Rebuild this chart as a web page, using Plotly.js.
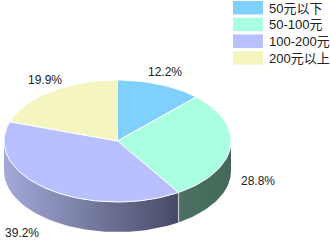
<!DOCTYPE html>
<html><head><meta charset="utf-8">
<script src="https://cdn.plot.ly/plotly-3.0.1.min.js"></script>
<style>html,body{margin:0;padding:0;background:#fff}#c{width:330px;height:245px}</style>
</head><body><div id="c"></div>
<script>
const categories = ['50元以下', '50-100元', '100-200元', '200元以上'];
const values = [12.2, 28.8, 39.2, 19.9];
const labels = ['12.2%', '28.8%', '39.2%', '19.9%'];
const topColors = ['#80d0ff', '#aaffe0', '#b8c0ff', '#f5f5c0'];
const sideColors = [['#5a8fb0','#3a6480'], ['#4a7262','#436858'], ['#a3aad9','#474a66'], ['#b0b088','#808060']];

const cx = 117.5, cy = 141, rx = 113.5, ry = 61, depth = 30;
const total = values.reduce((a,b)=>a+b,0);
function pt(t, dy){ const r = t*Math.PI/180; return [cx + rx*Math.sin(r), cy - ry*Math.cos(r) + (dy||0)]; }

const traces = [];
let acc = 0;
const spans = values.map(v => { const a0 = acc/total*360; acc += v; return [a0, acc/total*360]; });

// sides (visible for 90..270)
spans.forEach((s,i) => {
  const a = Math.max(s[0], 90), b = Math.min(s[1], 270);
  if (b <= a) return;
  const xs=[], ys=[];
  for (let t=a; t<=b+1e-9; t+=(b-a)/60){ const p=pt(t,0); xs.push(p[0]); ys.push(p[1]); }
  for (let t=b; t>=a-1e-9; t-=(b-a)/60){ const p=pt(t,depth); xs.push(p[0]); ys.push(p[1]); }
  traces.push({type:'scatter', mode:'lines', x:xs, y:ys, fill:'toself',
    fillgradient:{type:'horizontal', colorscale:[[0,sideColors[i][0]],[1,sideColors[i][1]]]},
    line:{width:0}, hoverinfo:'skip', showlegend:false});
});
// dividers between visible side segments
spans.forEach(s => {
  const t = s[0];
  if (t > 90 && t < 270) {
    const p0 = pt(t,0), p1 = pt(t,depth);
    traces.push({type:'scatter', mode:'lines', x:[p0[0],p1[0]], y:[p0[1],p1[1]], line:{color:'#c8c8c8', width:1.2}, hoverinfo:'skip', showlegend:false});
  }
});
// tops
spans.forEach((s,i) => {
  const xs=[cx], ys=[cy];
  const n = Math.max(10, Math.round((s[1]-s[0])/2));
  for (let k=0;k<=n;k++){ const p=pt(s[0]+(s[1]-s[0])*k/n); xs.push(p[0]); ys.push(p[1]); }
  xs.push(cx); ys.push(cy);
  traces.push({type:'scatter', mode:'lines', x:xs, y:ys, fill:'toself', fillcolor:topColors[i],
    line:{color:'#ffffff', width:1}, name:categories[i], hoverinfo:'name', showlegend:false});
});

const labelPos = [[165,72],[258,181],[22,233],[45,80]];
const annotations = labels.map((l,i)=>({x:labelPos[i][0], y:labelPos[i][1], xref:'x', yref:'y', text:l, showarrow:false,
  font:{family:'Liberation Sans, Arial, sans-serif', size:12, color:'#222'}}));
const shapes = [];
categories.forEach((c,i)=>{
  const y0 = 1 + i*16.7;
  shapes.push({type:'rect', xref:'x', yref:'y', x0:233, x1:263, y0:y0, y1:y0+13.5, fillcolor:topColors[i], line:{width:0}});
  annotations.push({x:267, y:y0+7, xref:'x', yref:'y', xanchor:'left', text:c, showarrow:false,
    font:{family:'Liberation Sans, Arial, Noto Sans CJK SC, sans-serif', size:13, color:'#222'}});
});

Plotly.newPlot('c', traces, {
  width:330, height:245, margin:{l:0,r:0,t:0,b:0}, paper_bgcolor:'#fff', plot_bgcolor:'#fff',
  xaxis:{range:[0,330], visible:false, fixedrange:true},
  yaxis:{range:[245,0], visible:false, fixedrange:true},
  shapes:shapes, annotations:annotations, showlegend:false
}, {staticPlot:true});
</script></body></html>
